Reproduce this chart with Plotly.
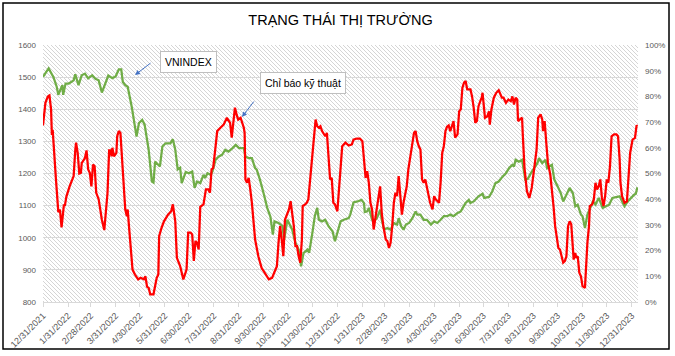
import base64
import pandas as pd
import plotly.graph_objects as go

# ---------------- data ----------------
vn_dates = [
    "2021-12-31", "2022-01-07", "2022-01-13", "2022-01-17", "2022-01-19", "2022-01-24", "2022-01-25", "2022-01-28",
    "2022-02-01", "2022-02-07", "2022-02-09", "2022-02-13", "2022-02-17", "2022-02-21", "2022-02-25", "2022-03-02",
    "2022-03-06", "2022-03-10", "2022-03-14", "2022-03-18", "2022-03-22", "2022-03-27", "2022-03-31", "2022-04-04",
    "2022-04-07", "2022-04-09", "2022-04-12", "2022-04-15", "2022-04-17", "2022-04-20", "2022-04-22", "2022-04-26",
    "2022-04-29", "2022-05-03", "2022-05-06", "2022-05-08", "2022-05-11", "2022-05-15", "2022-05-17", "2022-05-19",
    "2022-05-21", "2022-05-25", "2022-05-28", "2022-06-01", "2022-06-07", "2022-06-10", "2022-06-13", "2022-06-16",
    "2022-06-19", "2022-06-21", "2022-06-26", "2022-06-30", "2022-07-04", "2022-07-07", "2022-07-10", "2022-07-14",
    "2022-07-18", "2022-07-20", "2022-07-23", "2022-07-27", "2022-07-29", "2022-08-02", "2022-08-06", "2022-08-10",
    "2022-08-14", "2022-08-18", "2022-08-23", "2022-08-27", "2022-08-31", "2022-09-06", "2022-09-08", "2022-09-12",
    "2022-09-16", "2022-09-20", "2022-09-22", "2022-09-26", "2022-10-01", "2022-10-05", "2022-10-09", "2022-10-12",
    "2022-10-14", "2022-10-19", "2022-10-24", "2022-10-26", "2022-10-30", "2022-11-03", "2022-11-05", "2022-11-09",
    "2022-11-13", "2022-11-16", "2022-11-19", "2022-11-24", "2022-11-26", "2022-11-30", "2022-12-03", "2022-12-06",
    "2022-12-08", "2022-12-12", "2022-12-16", "2022-12-20", "2022-12-25", "2022-12-28", "2023-01-01", "2023-01-04",
    "2023-01-08", "2023-01-14", "2023-01-16", "2023-01-20", "2023-01-25", "2023-01-30", "2023-02-02", "2023-02-03",
    "2023-02-06", "2023-02-08", "2023-02-12", "2023-02-14", "2023-02-18", "2023-02-22", "2023-02-24", "2023-02-27",
    "2023-03-03", "2023-03-07", "2023-03-11", "2023-03-15", "2023-03-17", "2023-03-20", "2023-03-23", "2023-03-26",
    "2023-03-30", "2023-04-03", "2023-04-07", "2023-04-09", "2023-04-13", "2023-04-17", "2023-04-21", "2023-04-26",
    "2023-04-30", "2023-05-04", "2023-05-08", "2023-05-12", "2023-05-16", "2023-05-20", "2023-05-24", "2023-05-29",
    "2023-06-02", "2023-06-06", "2023-06-08", "2023-06-12", "2023-06-14", "2023-06-18", "2023-06-22", "2023-06-24",
    "2023-06-29", "2023-07-01", "2023-07-07", "2023-07-11", "2023-07-15", "2023-07-19", "2023-07-24", "2023-07-28",
    "2023-08-01", "2023-08-05", "2023-08-07", "2023-08-09", "2023-08-13", "2023-08-17", "2023-08-21", "2023-08-24",
    "2023-08-28", "2023-09-01", "2023-09-05", "2023-09-07", "2023-09-11", "2023-09-15", "2023-09-17", "2023-09-23",
    "2023-09-26", "2023-09-30", "2023-10-04", "2023-10-07", "2023-10-10", "2023-10-15", "2023-10-19", "2023-10-22",
    "2023-10-25", "2023-10-29", "2023-10-31", "2023-11-03", "2023-11-06", "2023-11-10", "2023-11-13", "2023-11-16",
    "2023-11-20", "2023-11-25", "2023-11-29", "2023-12-03", "2023-12-07", "2023-12-12", "2023-12-16", "2023-12-20",
    "2023-12-22", "2023-12-26", "2023-12-30", "2024-01-03", "2024-01-05", "2024-01-07",
]
vn_values = [
    1501, 1527, 1500, 1470, 1445, 1475, 1445, 1480,
    1480, 1490, 1509, 1475, 1506, 1511, 1496, 1506,
    1495, 1490, 1452, 1480, 1505, 1497, 1502, 1524,
    1524, 1485, 1475, 1470, 1449, 1408, 1377, 1315,
    1357, 1367, 1352, 1315, 1274, 1175, 1172, 1237,
    1232, 1222, 1284, 1294, 1294, 1307, 1274, 1213,
    1218, 1170, 1205, 1201, 1206, 1155, 1175, 1170,
    1196, 1186, 1201, 1196, 1206, 1243, 1253, 1258,
    1274, 1268, 1279, 1289, 1279, 1279, 1253, 1248,
    1248, 1217, 1212, 1181, 1134, 1093, 1065, 1010,
    1051, 1046, 1036, 994, 1056, 1036, 1025, 984,
    963, 911, 952, 963, 953, 1015, 1067, 1093,
    1056, 1051, 1056, 1036, 1020, 989, 1025, 1051,
    1056, 1061, 1072, 1110, 1113, 1118, 1108, 1080,
    1082, 1093, 1056, 1051, 1061, 1087, 1056, 1025,
    1030, 1025, 1046, 1041, 1061, 1036, 1025, 1041,
    1046, 1061, 1082, 1072, 1072, 1056, 1056, 1041,
    1051, 1046, 1056, 1067, 1067, 1072, 1067, 1077,
    1082, 1098, 1108, 1118, 1108, 1113, 1123, 1129,
    1137, 1124, 1127, 1144, 1170, 1175, 1191, 1201,
    1217, 1227, 1222, 1243, 1237, 1243, 1181, 1183,
    1201, 1217, 1232, 1248, 1232, 1243, 1217, 1227,
    1181, 1160, 1139, 1113, 1129, 1155, 1139, 1098,
    1103, 1072, 1067, 1030, 1072, 1098, 1113, 1103,
    1124, 1093, 1098, 1103, 1124, 1127, 1129, 1108,
    1098, 1113, 1124, 1134, 1137, 1157,
]

ind_dates = [
    "2021-12-31", "2022-01-03", "2022-01-06", "2022-01-08", "2022-01-10", "2022-01-11", "2022-01-12", "2022-01-14",
    "2022-01-16", "2022-01-19", "2022-01-21", "2022-01-23", "2022-01-26", "2022-01-27", "2022-01-29", "2022-02-02",
    "2022-02-07", "2022-02-09", "2022-02-10", "2022-02-12", "2022-02-14", "2022-02-16", "2022-02-17", "2022-02-21",
    "2022-02-23", "2022-02-25", "2022-02-27", "2022-03-01", "2022-03-03", "2022-03-05", "2022-03-07", "2022-03-10",
    "2022-03-14", "2022-03-17", "2022-03-19", "2022-03-21", "2022-03-23", "2022-03-25", "2022-03-26", "2022-03-27",
    "2022-03-29", "2022-04-01", "2022-04-02", "2022-04-04", "2022-04-06", "2022-04-08", "2022-04-10", "2022-04-12",
    "2022-04-14", "2022-04-15", "2022-04-17", "2022-04-19", "2022-04-21", "2022-04-24", "2022-04-28", "2022-05-01",
    "2022-05-05", "2022-05-07", "2022-05-09", "2022-05-11", "2022-05-13", "2022-05-17", "2022-05-19", "2022-05-21",
    "2022-05-23", "2022-05-24", "2022-05-27", "2022-05-30", "2022-06-04", "2022-06-08", "2022-06-10", "2022-06-13",
    "2022-06-15", "2022-06-17", "2022-06-19", "2022-06-23", "2022-06-27", "2022-06-29", "2022-07-02", "2022-07-04",
    "2022-07-06", "2022-07-08", "2022-07-10", "2022-07-12", "2022-07-14", "2022-07-18", "2022-07-21", "2022-07-24",
    "2022-07-26", "2022-07-28", "2022-07-30", "2022-08-02", "2022-08-04", "2022-08-08", "2022-08-12", "2022-08-16",
    "2022-08-20", "2022-08-22", "2022-08-24", "2022-08-26", "2022-08-28", "2022-08-30", "2022-09-02", "2022-09-04",
    "2022-09-06", "2022-09-07", "2022-09-08", "2022-09-10", "2022-09-12", "2022-09-14", "2022-09-16", "2022-09-20",
    "2022-09-24", "2022-09-28", "2022-10-03", "2022-10-07", "2022-10-11", "2022-10-15", "2022-10-17", "2022-10-19",
    "2022-10-21", "2022-10-23", "2022-10-25", "2022-10-27", "2022-10-30", "2022-11-01", "2022-11-03", "2022-11-05",
    "2022-11-07", "2022-11-09", "2022-11-11", "2022-11-13", "2022-11-15", "2022-11-17", "2022-11-18", "2022-11-21",
    "2022-11-23", "2022-11-25", "2022-11-27", "2022-11-30", "2022-12-02", "2022-12-04", "2022-12-06", "2022-12-08",
    "2022-12-10", "2022-12-12", "2022-12-16", "2022-12-18", "2022-12-20", "2022-12-22", "2022-12-24", "2022-12-26",
    "2022-12-28", "2022-12-31", "2023-01-02", "2023-01-04", "2023-01-06", "2023-01-10", "2023-01-14", "2023-01-18",
    "2023-01-20", "2023-01-24", "2023-01-28", "2023-01-31", "2023-02-02", "2023-02-04", "2023-02-06", "2023-02-08",
    "2023-02-10", "2023-02-12", "2023-02-14", "2023-02-16", "2023-02-18", "2023-02-20", "2023-02-22", "2023-02-24",
    "2023-02-26", "2023-03-01", "2023-03-03", "2023-03-05", "2023-03-07", "2023-03-09", "2023-03-11", "2023-03-13",
    "2023-03-15", "2023-03-17", "2023-03-19", "2023-03-21", "2023-03-23", "2023-03-25", "2023-03-27", "2023-03-29",
    "2023-04-01", "2023-04-03", "2023-04-05", "2023-04-07", "2023-04-09", "2023-04-11", "2023-04-13", "2023-04-15",
    "2023-04-17", "2023-04-19", "2023-04-21", "2023-04-23", "2023-04-25", "2023-04-28", "2023-04-30", "2023-05-02",
    "2023-05-04", "2023-05-06", "2023-05-08", "2023-05-10", "2023-05-12", "2023-05-14", "2023-05-16", "2023-05-18",
    "2023-05-20", "2023-05-22", "2023-05-24", "2023-05-26", "2023-05-29", "2023-05-31", "2023-06-02", "2023-06-04",
    "2023-06-06", "2023-06-08", "2023-06-10", "2023-06-14", "2023-06-16", "2023-06-18", "2023-06-20", "2023-06-22",
    "2023-06-24", "2023-06-27", "2023-06-28", "2023-06-29", "2023-07-02", "2023-07-05", "2023-07-07", "2023-07-08",
    "2023-07-10", "2023-07-13", "2023-07-16", "2023-07-19", "2023-07-23", "2023-07-25", "2023-07-28", "2023-07-31",
    "2023-08-03", "2023-08-05", "2023-08-07", "2023-08-09", "2023-08-11", "2023-08-12", "2023-08-15", "2023-08-17",
    "2023-08-18", "2023-08-20", "2023-08-23", "2023-08-25", "2023-08-26", "2023-08-29", "2023-08-31", "2023-09-02",
    "2023-09-04", "2023-09-06", "2023-09-09", "2023-09-11", "2023-09-12", "2023-09-13", "2023-09-14", "2023-09-16",
    "2023-09-18", "2023-09-21", "2023-09-23", "2023-09-25", "2023-09-27", "2023-09-29", "2023-10-01", "2023-10-03",
    "2023-10-05", "2023-10-07", "2023-10-09", "2023-10-11", "2023-10-13", "2023-10-15", "2023-10-17", "2023-10-19",
    "2023-10-20", "2023-10-22", "2023-10-23", "2023-10-25", "2023-10-27", "2023-10-29", "2023-10-31", "2023-11-03",
    "2023-11-04", "2023-11-06", "2023-11-08", "2023-11-09", "2023-11-12", "2023-11-14", "2023-11-16", "2023-11-18",
    "2023-11-20", "2023-11-22", "2023-11-24", "2023-11-26", "2023-11-28", "2023-11-30", "2023-12-02", "2023-12-04",
    "2023-12-06", "2023-12-09", "2023-12-12", "2023-12-14", "2023-12-16", "2023-12-17", "2023-12-19", "2023-12-22",
    "2023-12-25", "2023-12-27", "2023-12-29", "2024-01-01", "2024-01-04", "2024-01-06", "2024-01-07",
]
ind_pct = [
    68.7, 77.5, 80, 80.4, 75, 65, 67, 59,
    48, 35, 36, 29, 38, 37.3, 41, 45,
    49, 59, 62, 58, 50, 50.3, 54, 56,
    59, 51.6, 50.3, 45, 53.5, 52.8, 42.5, 40,
    32, 28, 34.7, 42.5, 59, 59, 56.7, 60,
    56.7, 58, 64.5, 66.5, 65.8, 55.4, 45, 36,
    33.4, 36, 28, 21.7, 12.6, 10.7, 8.8, 9.4,
    8.8, 10, 6, 5.5, 3, 3, 6.1, 9.4,
    10.7, 25.6, 28.9, 31.4, 34, 35.3, 38, 31.4,
    17.2, 15.3, 14, 8.8, 12.6, 27, 27, 26.3,
    16, 23.7, 23, 20.4, 37, 38, 43.8, 43.8,
    42.5, 51.6, 52.2, 60.6, 66.5, 67.8, 69, 71.7,
    69.7, 64, 69, 75.6, 73, 71, 71.7, 69.7,
    67.8, 65.8, 47.7, 46.4, 48.3, 43.8, 38.6, 24.3,
    17.8, 13.3, 10.7, 8.8, 9.4, 12.6, 13.9, 23,
    29.5, 24.3, 17.8, 32, 34.7, 36, 39.2, 34.7,
    29.5, 21.7, 21.7, 17.8, 15.3, 24.3, 37.3, 38,
    38.6, 39.9, 46.4, 56.7, 63.2, 71, 68.4, 67.8,
    68.4, 66.5, 64.5, 65.8, 56.7, 47.7, 48.3, 38.6,
    38, 35.3, 43.8, 54, 60.6, 62, 60.9, 61.3,
    63.2, 63.6, 63.6, 62.6, 55.4, 48.3, 50.9, 46.4,
    38.6, 36, 28.2, 32.1, 36, 41.2, 45, 34.7,
    29.5, 24.3, 23.7, 21, 23, 29.5, 38.6, 42.5,
    41.2, 49, 39.9, 34, 38.6, 42.5, 45, 51.6,
    58, 63.2, 65.8, 66.5, 62.6, 60.6, 59.3, 47.7,
    46.4, 47.7, 45, 41.2, 38.6, 36, 41.2, 39.9,
    39.2, 38.6, 46.4, 58, 60.6, 66.5, 68.2, 68.7,
    66.5, 68.4, 70.4, 64, 65.2, 74.2, 75, 83.3,
    85.3, 86, 82.7, 82.7, 80, 75.6, 69.7, 70.4,
    76.2, 78.8, 79.5, 81.4, 71.7, 72.3, 74.2, 69,
    74.9, 79.5, 81.4, 82.4, 79.5, 79.5, 77.5, 78.8,
    78.1, 80, 76.8, 79.5, 78.8, 70.4, 71, 71.7,
    64.5, 52.2, 43.1, 41.8, 40.5, 44.4, 49, 54.2,
    59.3, 71.7, 73, 71, 66.5, 68.4, 70.4, 62,
    54.2, 49.6, 44.4, 37.3, 29.5, 24.3, 21, 20.4,
    17.8, 15.3, 15.9, 17.8, 29.5, 31.4, 30.2, 23,
    16.5, 19.1, 17.2, 17.8, 11.4, 10, 6.2, 5.5,
    13.9, 23, 29.5, 37.3, 38, 39.9, 46.4, 43.8,
    45, 47.7, 40.5, 37.3, 41.2, 47.7, 46.4, 52.8,
    64.5, 65.2, 65.2, 64.5, 55.4, 46.4, 41.2, 38.6,
    39.2, 47.7, 58, 63.2, 63.9, 68.7, 68.4,
]

x_tick_labels = [
    "12/31/2021", "1/31/2022", "2/28/2022", "3/31/2022", "4/30/2022", "5/31/2022", "6/30/2022",
    "7/31/2022", "8/31/2022", "9/30/2022", "10/31/2022", "11/30/2022", "12/31/2022",
    "1/31/2023", "2/28/2023", "3/31/2023", "4/30/2023", "5/31/2023", "6/30/2023",
    "7/31/2023", "8/31/2023", "9/30/2023", "10/31/2023", "11/30/2023", "12/31/2023",
]

title_text = "TRẠNG THÁI THỊ TRƯỜNG"
label_vn = "VNINDEX"
label_ind = "Chỉ báo kỹ thuật"

# ---------------- figure ----------------
W, H = 675, 356
ML, MR, MT, MB = 43, 37, 45, 54
PW, PH = W - ML - MR, H - MT - MB

def px_x(x):
    return (x - ML) / PW

def px_y(y):
    return (H - MB - y) / PH

tick_vals = pd.to_datetime(x_tick_labels, format="%m/%d/%Y")
ind_frac = [v / 100 for v in ind_pct]

fig = go.Figure()
fig.add_trace(go.Scatter(
    x=pd.to_datetime(vn_dates), y=vn_values, mode="lines", name=label_vn,
    line=dict(color="#70ad47", width=2.25), yaxis="y",
))
fig.add_trace(go.Scatter(
    x=pd.to_datetime(ind_dates), y=ind_frac, mode="lines", name=label_ind,
    line=dict(color="#ff0000", width=2.25), yaxis="y2",
))

# hatched plot-area background as an SVG pattern image
svg = (
    f'<svg xmlns="http://www.w3.org/2000/svg" width="{PW}" height="{PH}" viewBox="0 0 {PW} {PH}" preserveAspectRatio="none">'
    '<defs><pattern id="h" patternUnits="userSpaceOnUse" width="4" height="4">'
    '<path d="M-1,-1 L5,5 M-1,3 L1,5 M3,-1 L5,1" stroke="#cdcdcd" stroke-width="0.85"/>'
    '</pattern></defs>'
    f'<rect width="{PW}" height="{PH}" fill="white"/>'
    f'<rect width="{PW}" height="{PH}" fill="url(#h)"/></svg>'
)
img = "data:image/svg+xml;base64," + base64.b64encode(svg.encode()).decode()
fig.add_layout_image(dict(
    source=img, xref="paper", yref="paper", x=0, y=1, sizex=1, sizey=1,
    xanchor="left", yanchor="top", sizing="stretch", layer="below",
))

title_font = dict(family="Liberation Sans, Arial, sans-serif", size=14.5, color="#000000")
ytick_font = dict(family="Liberation Sans, Arial, sans-serif", size=8, color="#595959")
xtick_font = dict(family="Liberation Sans, Arial, sans-serif", size=9, color="#595959")

fig.update_layout(
    width=W, height=H,
    margin=dict(l=ML, r=MR, t=MT, b=MB, pad=0),
    paper_bgcolor="white", plot_bgcolor="rgba(0,0,0,0)",
    showlegend=False, hovermode=False,
    title=dict(text=title_text, x=0.5, xanchor="center", y=1 - 20 / H, yanchor="middle",
               xref="paper", yref="container", font=title_font),
    xaxis=dict(
        type="date", range=["2021-12-31", "2024-01-07 18:00"],
        tickvals=tick_vals, ticktext=x_tick_labels, tickangle=-45,
        tickfont=xtick_font, showgrid=False, zeroline=False,
        showline=True, linecolor="#d9d9d9", linewidth=1,
        ticks="outside", ticklen=4, tickcolor="#d9d9d9", automargin=False,
    ),
    yaxis=dict(
        range=[800, 1600], dtick=100, tickfont=ytick_font,
        showgrid=True, gridcolor="#d9d9d9", gridwidth=1,
        zeroline=False, showline=False, ticklabelstandoff=6, automargin=False,
    ),
    yaxis2=dict(
        range=[0, 1], dtick=0.1, tickformat=".0%", tickfont=ytick_font,
        overlaying="y", side="right", showgrid=False, zeroline=False,
        showline=False, ticklabelstandoff=6, automargin=False,
    ),
)

box_font = dict(family="Liberation Sans, Arial, sans-serif", size=10.5, color="#000000")
fig.add_annotation(x=px_x(188.5), y=px_y(61.7), xref="paper", yref="paper", text=label_vn,
                   showarrow=False, font=box_font, bgcolor="white", bordercolor="#bfbfbf",
                   borderwidth=1, borderpad=4, xanchor="center", yanchor="middle")
fig.add_annotation(x=px_x(303), y=px_y(83), xref="paper", yref="paper", text=label_ind,
                   showarrow=False, font=box_font, bgcolor="white", bordercolor="#bfbfbf",
                   borderwidth=1, borderpad=4, xanchor="center", yanchor="middle")
# arrows
fig.add_annotation(x=px_x(135), y=px_y(75), xref="paper", yref="paper", text="",
                   showarrow=True, ax=17, ay=-13, arrowhead=2, arrowsize=1, arrowwidth=1,
                   arrowcolor="#4472c4")
fig.add_annotation(x=px_x(242), y=px_y(117), xref="paper", yref="paper", text="",
                   showarrow=True, ax=13, ay=-17, arrowhead=2, arrowsize=1, arrowwidth=1,
                   arrowcolor="#4472c4")

# outer chart border
fig.add_shape(type="rect", xref="paper", yref="paper",
              x0=px_x(3), x1=px_x(669), y0=px_y(349), y1=px_y(3),
              line=dict(color="#000000", width=1.5), fillcolor="rgba(0,0,0,0)", layer="above")

fig.write_html(
    "out.html",
    config={"displayModeBar": False, "staticPlot": True},
    post_script="document.body.style.margin='0px';document.body.style.overflow='hidden';",
)
